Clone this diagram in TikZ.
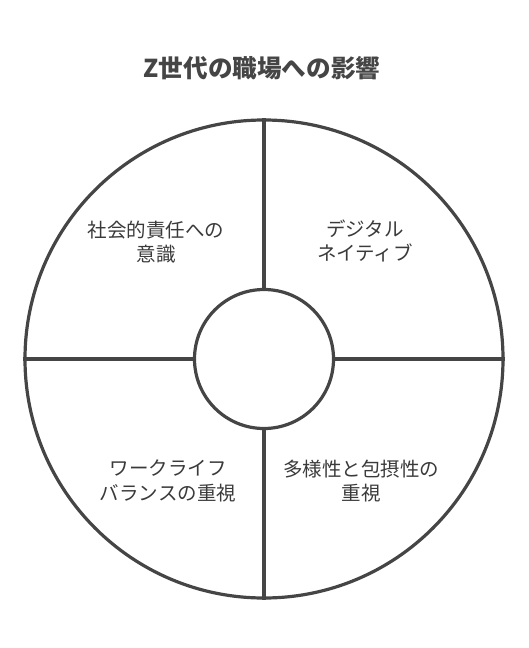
\documentclass[tikz,border=0pt]{standalone}
\usepackage{fontspec}
\newfontfamily\cjk{Noto Sans CJK JP}
\begin{document}
\begin{tikzpicture}[x=1pt,y=-1pt,
  ring/.style={draw=ln,line width=3.2pt},
  divider/.style={draw=ln,line width=3.2pt},
  lbl/.style={text=tx,font=\cjk\fontsize{19.5}{24.5}\selectfont,align=center,inner sep=0pt},
  ttl/.style={text=ln,font=\cjk\bfseries\fontsize{24.6}{28}\selectfont,inner sep=0pt}]
\definecolor{ln}{HTML}{454545}
\definecolor{tx}{HTML}{3A3A3A}
\useasboundingbox (0,0) rectangle (528,648);
\node[ttl] (title) at (262,68) {Z世代の職場への影響};
\coordinate (c) at (264,359);
\node[ring,circle,minimum size=478pt,inner sep=0pt] (outer) at (c) {};
\node[ring,circle,minimum size=139pt,inner sep=0pt] (inner) at (c) {};
\draw[divider] (inner.north) -- (outer.north);
\draw[divider] (inner.south) -- (outer.south);
\draw[divider] (inner.west) -- (outer.west);
\draw[divider] (inner.east) -- (outer.east);
\node[lbl] (q1) at (156,242) {社会的責任への\\意識};
\node[lbl] (q2) at (365,241) {デジタル\\ネイティブ};
\node[lbl] (q3) at (168,481) {ワークライフ\\バランスの重視};
\node[lbl] (q4) at (361,481) {多様性と包摂性の\\重視};
\end{tikzpicture}
\end{document}
